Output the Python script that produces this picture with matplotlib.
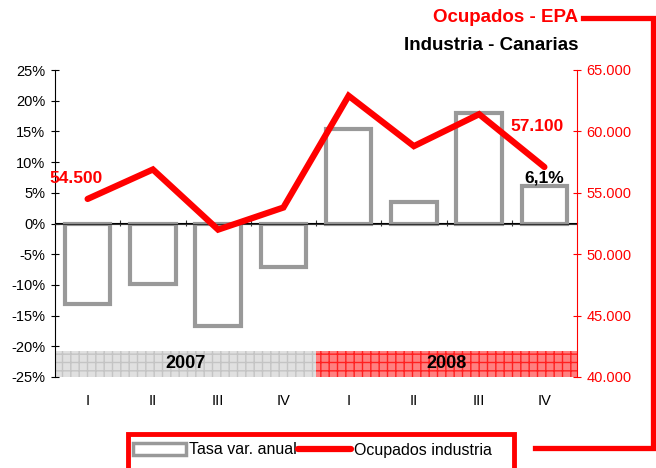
import matplotlib
matplotlib.use("Agg")
import matplotlib.pyplot as plt
from matplotlib.lines import Line2D
from matplotlib.patches import Rectangle

plt.rcParams["font.family"] = ["Liberation Sans", "DejaVu Sans"]

trimestres = ["I", "II", "III", "IV", "I", "II", "III", "IV"]
anios = ["2007", "2008"]
tasa = [-13.1, -9.9, -16.7, -7.1, 15.4, 3.5, 18.0, 6.1]
ocupados = [54500, 56900, 52000, 53800, 62900, 58800, 61400, 57100]

ROJO = "#ff0000"
GRIS = "#999999"
W, H = 656, 468

fig = plt.figure(figsize=(W / 100, H / 100), dpi=100)
ax = fig.add_axes([55 / W, 1 - 377 / H, (577 - 55) / W, (377 - 70) / H])
x = list(range(len(trimestres)))

ax.bar(x, tasa, 0.7, facecolor="white", edgecolor=GRIS, linewidth=3, zorder=3)
ax.set_xlim(-0.5, len(x) - 0.5)
ax.set_ylim(-25, 25)
ax.set_yticks(range(-25, 26, 5))
ax.set_yticklabels([f"{v}%" for v in range(-25, 26, 5)])
ax.tick_params(axis="y", direction="inout", length=6, labelsize=10.5, pad=4)
ax.set_xticks(x)
ax.set_xticklabels(trimestres)
ax.tick_params(axis="x", length=0, labelsize=10.5, pad=12)
for s in ["top", "right", "bottom"]:
    ax.spines[s].set_visible(False)
ax.axhline(0, color="#333333", linewidth=0.8, zorder=4)

# ticks on the zero line
sec = ax.secondary_xaxis(0.5)
sec.set_xticks([i + 0.5 for i in x[:-1]])
sec.set_xticklabels([])
sec.tick_params(direction="inout", length=5, width=0.8, color="#333333")
sec.spines["bottom"].set_visible(False)

# year bands
for i, (anio, fc, hc) in enumerate(zip(anios, ["#e0e0e0", "#ff8080"], ["#c4c4c4", "#ff2020"])):
    lo, hi = i * 4 - 0.5, i * 4 + 3.5
    ax.axvspan(lo, hi, ymin=0, ymax=0.086, facecolor=fc, edgecolor=hc,
               hatch="++", linewidth=0, zorder=1)
    ax.text((lo + hi) / 2, 0.043, anio, transform=ax.get_xaxis_transform(),
            ha="center", va="center", fontsize=13, fontweight="bold", zorder=5)

ax2 = ax.twinx()
ax2.plot(x, ocupados, color=ROJO, linewidth=4.5, solid_capstyle="round",
         solid_joinstyle="miter", zorder=5)
ax2.set_ylim(40000, 65000)
ax2.set_yticks(range(40000, 65001, 5000))
ax2.set_yticklabels([f"{v // 1000}.000" for v in range(40000, 65001, 5000)])
ax2.tick_params(axis="y", direction="inout", length=6, colors=ROJO, labelsize=10.5, pad=4)
for s in ["top", "left", "bottom"]:
    ax2.spines[s].set_visible(False)
ax2.spines["right"].set_color(ROJO)

ax2.annotate(f"{ocupados[0]:,}".replace(",", "."), (x[0], ocupados[0]),
             xytext=(-8, 15), textcoords="offset points", ha="center", va="center",
             color=ROJO, fontsize=12.5, fontweight="bold")
ax2.annotate(f"{ocupados[-1]:,}".replace(",", "."), (x[-1], ocupados[-1]),
             xytext=(-5, 29), textcoords="offset points", ha="center", va="center",
             color=ROJO, fontsize=12.5, fontweight="bold")
ax.annotate(f"{tasa[-1]}%".replace(".", ","), (x[-1], tasa[-1]),
            xytext=(0, 6), textcoords="offset points", ha="center", va="center",
            fontsize=12.5, fontweight="bold", zorder=6)

# titles
fig.text(578 / W, 1 - 18 / H, "Ocupados - EPA", color=ROJO, ha="right", va="center",
         fontsize=13.5, fontweight="bold")
fig.text(578 / W, 1 - 45 / H, "Industria - Canarias", color="black", ha="right", va="center",
         fontsize=13.5, fontweight="bold")

# red bracket
fig.add_artist(Line2D([583 / W, 653 / W, 653 / W, 535 / W],
                      [1 - 18 / H, 1 - 18 / H, 1 - 448 / H, 1 - 448 / H],
                      color=ROJO, linewidth=3.8, solid_joinstyle="miter"))

# legend box
fig.add_artist(Rectangle((128 / W, -0.05), (514 - 128) / W, 0.05 + (468 - 434) / H,
                         transform=fig.transFigure, facecolor="none", edgecolor=ROJO,
                         linewidth=3.5))
handles = [Rectangle((0, 0), 1, 1, facecolor="white", edgecolor=GRIS, linewidth=2.5),
           Line2D([], [], color=ROJO, linewidth=4.5, solid_capstyle="round")]
fig.legend(handles, ["Tasa var. anual", "Ocupados industria"], loc="center left",
           bbox_to_anchor=(122 / W, 1 - 450 / H), ncol=2, frameon=False, fontsize=11.5,
           handlelength=3.3, handleheight=0.7, handletextpad=0.2, columnspacing=0.1,
           borderpad=0.2)

fig.savefig("out.png", dpi=100)
